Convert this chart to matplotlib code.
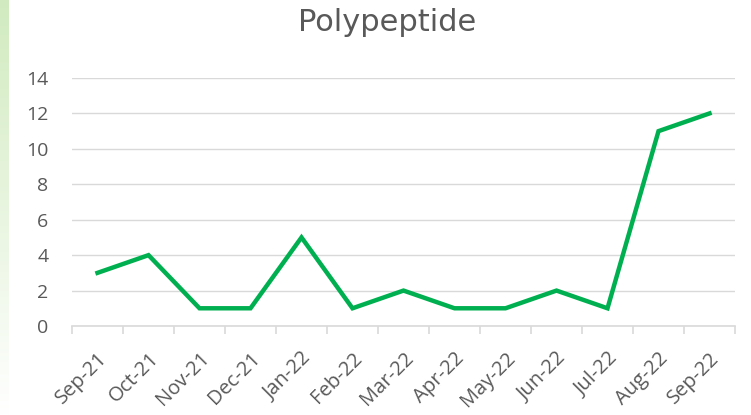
import matplotlib.pyplot as plt
import numpy as np

months = ['Sep-21', 'Oct-21', 'Nov-21', 'Dec-21', 'Jan-22', 'Feb-22', 'Mar-22',
          'Apr-22', 'May-22', 'Jun-22', 'Jul-22', 'Aug-22', 'Sep-22']
counts = [3, 4, 1, 1, 5, 1, 2, 1, 1, 2, 1, 11, 12]
yticks = [0, 2, 4, 6, 8, 10, 12, 14]

plt.rcParams['font.family'] = ['Open Sans', 'DejaVu Sans']

fig = plt.figure(figsize=(7.51, 4.15), dpi=100)

# light green strip on the left edge
strip = fig.add_axes([0, 0, 9 / 751, 1])
grad = np.linspace(0, 1, 256).reshape(-1, 1)
top = np.array([0.82, 0.92, 0.75])
rgb = top[None, None, :] * (1 - grad[:, :, None]) + np.ones(3)[None, None, :] * grad[:, :, None]
strip.imshow(rgb, aspect='auto', extent=[0, 1, 0, 1])
strip.axis('off')

ax = fig.add_axes([72 / 751, 1 - 326 / 415, 663 / 751, 248 / 415])
x = np.arange(len(months))
ax.plot(x, counts, color='#00B050', linewidth=3.2, solid_joinstyle='miter', zorder=3)

ax.set_xlim(-0.5, len(months) - 0.5)
ax.set_ylim(0, 14)
ax.set_yticks(yticks)
ax.grid(axis='y', color='#D9D9D9', linewidth=1)
ax.set_axisbelow(True)

for s in ['top', 'right', 'left']:
    ax.spines[s].set_visible(False)
ax.spines['bottom'].set_color('#D9D9D9')
ax.spines['bottom'].set_linewidth(1.2)

ax.set_xticks(x)
ax.set_xticklabels(months, rotation=45, ha='right', rotation_mode='anchor')
ax.set_xticks(np.arange(-0.5, len(months)), minor=True)
ax.tick_params(axis='x', which='major', length=0, pad=16, labelsize=14.5, labelcolor='#595959')
ax.tick_params(axis='x', which='minor', length=6, color='#D9D9D9', width=1.2)
ax.tick_params(axis='y', length=0, pad=17, labelsize=14, labelcolor='#595959')

fig.text(0.515, 0.945, 'Polypeptide', ha='center', va='center', fontsize=22,
         color='#595959', family=['Liberation Sans Narrow', 'DejaVu Sans'])

fig.savefig('out.png', dpi=100)
